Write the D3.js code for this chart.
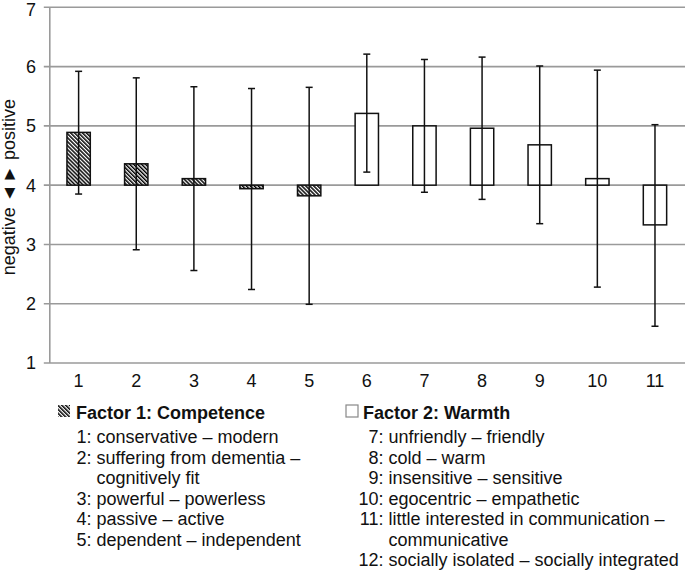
<!DOCTYPE html>
<html>
<head>
<meta charset="utf-8">
<script src="https://cdn.jsdelivr.net/npm/d3@7"></script>
<style>
  html, body { margin: 0; padding: 0; background: #fff; }
  svg { display: block; font-family: "Liberation Sans", Arial, sans-serif; }
</style>
</head>
<body>
<svg id="chart" width="685" height="573"></svg>
<script>
const categories = ["1","2","3","4","5","6","7","8","9","10","11"];
const means   = [4.89, 4.36, 4.11, 3.94, 3.82, 5.21, 5.00, 4.96, 4.68, 4.11, 3.33];
const errLow  = [3.85, 2.91, 2.56, 2.24, 1.99, 4.22, 3.88, 3.76, 3.35, 2.28, 1.62];
const errHigh = [5.92, 5.81, 5.66, 5.63, 5.65, 6.21, 6.12, 6.16, 6.01, 5.94, 5.02];
const factorOf = [1, 1, 1, 1, 1, 2, 2, 2, 2, 2, 2];
const yTicks = [1, 2, 3, 4, 5, 6, 7];
const baseline = 4;
const yLabel = "negative \u25C4\u200A\u25BA positive";

const legend1Title = "Factor 1: Competence";
const legend1Nums  = ["1:", "2:", "", "3:", "4:", "5:"];
const legend1Texts = ["conservative \u2013 modern", "suffering from dementia \u2013", "cognitively fit",
                      "powerful \u2013 powerless", "passive \u2013 active", "dependent \u2013 independent"];
const legend2Title = "Factor 2: Warmth";
const legend2Nums  = ["7:", "8:", "9:", "10:", "11:", "", "12:"];
const legend2Texts = ["unfriendly \u2013 friendly", "cold \u2013 warm", "insensitive \u2013 sensitive",
                      "egocentric \u2013 empathetic", "little interested in communication \u2013",
                      "communicative", "socially isolated \u2013 socially integrated"];

const svg = d3.select("#chart");
const defs = svg.append("defs");
const pat = defs.append("pattern")
  .attr("id", "hatch")
  .attr("patternUnits", "userSpaceOnUse")
  .attr("width", 2.8).attr("height", 2.8)
  .attr("patternTransform", "rotate(-45)");
pat.append("rect").attr("width", 2.8).attr("height", 2.8).attr("fill", "#fff");
pat.append("rect").attr("x", 0).attr("y", 0).attr("width", 1.5).attr("height", 2.8).attr("fill", "#000");

const plotLeft = 49.8, plotRight = 683.8;
const x = d3.scaleBand().domain(categories).range([plotLeft, plotRight]).paddingInner(0.595).paddingOuter(0.2975);
const y = d3.scaleLinear().domain([1, 7]).range([363, 7.3]);

// gridlines
svg.append("g").selectAll("line").data(yTicks).join("line")
  .attr("x1", plotLeft - 6).attr("x2", 685)
  .attr("y1", d => y(d)).attr("y2", d => y(d))
  .attr("stroke", "#9a9a9a").attr("stroke-width", 1.6);

// y axis line
svg.append("line")
  .attr("x1", plotLeft).attr("x2", plotLeft)
  .attr("y1", y(7)).attr("y2", y(1))
  .attr("stroke", "#9a9a9a").attr("stroke-width", 1.6);

// y tick labels
svg.append("g").selectAll("text").data(yTicks).join("text")
  .attr("x", 36).attr("y", d => Math.max(y(d), 10)).attr("dy", "0.36em")
  .attr("text-anchor", "end").attr("font-size", 18).attr("fill", "#111")
  .text(d => d);

// x tick labels
svg.append("g").selectAll("text").data(categories).join("text")
  .attr("x", d => x(d) + x.bandwidth() / 2).attr("y", 386.5)
  .attr("text-anchor", "middle").attr("font-size", 18).attr("fill", "#111")
  .text(d => d);

// y axis title
svg.append("text")
  .attr("transform", `translate(14.5, ${y(4) + 2}) rotate(-90)`)
  .attr("text-anchor", "middle").attr("font-size", 18).attr("fill", "#111")
  .text(yLabel);

// bars
const idx = d3.range(categories.length);
svg.append("g").selectAll("rect").data(idx).join("rect")
  .attr("x", i => x(categories[i]))
  .attr("width", x.bandwidth())
  .attr("y", i => y(Math.max(means[i], baseline)))
  .attr("height", i => Math.abs(y(means[i]) - y(baseline)))
  .attr("fill", i => factorOf[i] === 1 ? "url(#hatch)" : "#fff")
  .attr("stroke", "#111").attr("stroke-width", 1.5);

// error bars
const eb = svg.append("g").attr("stroke", "#111").attr("stroke-width", 1.5);
idx.forEach(i => {
  const cx = x(categories[i]) + x.bandwidth() / 2;
  eb.append("line").attr("x1", cx).attr("x2", cx).attr("y1", y(errLow[i])).attr("y2", y(errHigh[i]));
  eb.append("line").attr("x1", cx - 3.5).attr("x2", cx + 3.5).attr("y1", y(errLow[i])).attr("y2", y(errLow[i]));
  eb.append("line").attr("x1", cx - 3.5).attr("x2", cx + 3.5).attr("y1", y(errHigh[i])).attr("y2", y(errHigh[i]));
});

// legends
function drawLegend(sx, titleX, numEnd, textX, title, nums, texts, fill, boxStroke) {
  const g = svg.append("g").attr("font-size", 18).attr("fill", "#111");
  g.append("rect").attr("x", sx).attr("y", 405).attr("width", 12).attr("height", 12)
    .attr("fill", fill).attr("stroke", boxStroke).attr("stroke-width", fill === "#fff" ? 1.2 : 0);
  g.append("text").attr("x", titleX).attr("y", 419).attr("font-weight", "bold").text(title);
  nums.forEach((n, k) => {
    const yy = 443 + k * 20.5;
    g.append("text").attr("x", numEnd).attr("y", yy).attr("text-anchor", "end").text(n);
    g.append("text").attr("x", textX).attr("y", yy).text(texts[k]);
  });
}
drawLegend(58, 76, 91.5, 96.5, legend1Title, legend1Nums, legend1Texts, "url(#hatch)", "none");
drawLegend(346, 363, 383.5, 388.5, legend2Title, legend2Nums, legend2Texts, "#fff", "#888");
</script>
</body>
</html>
